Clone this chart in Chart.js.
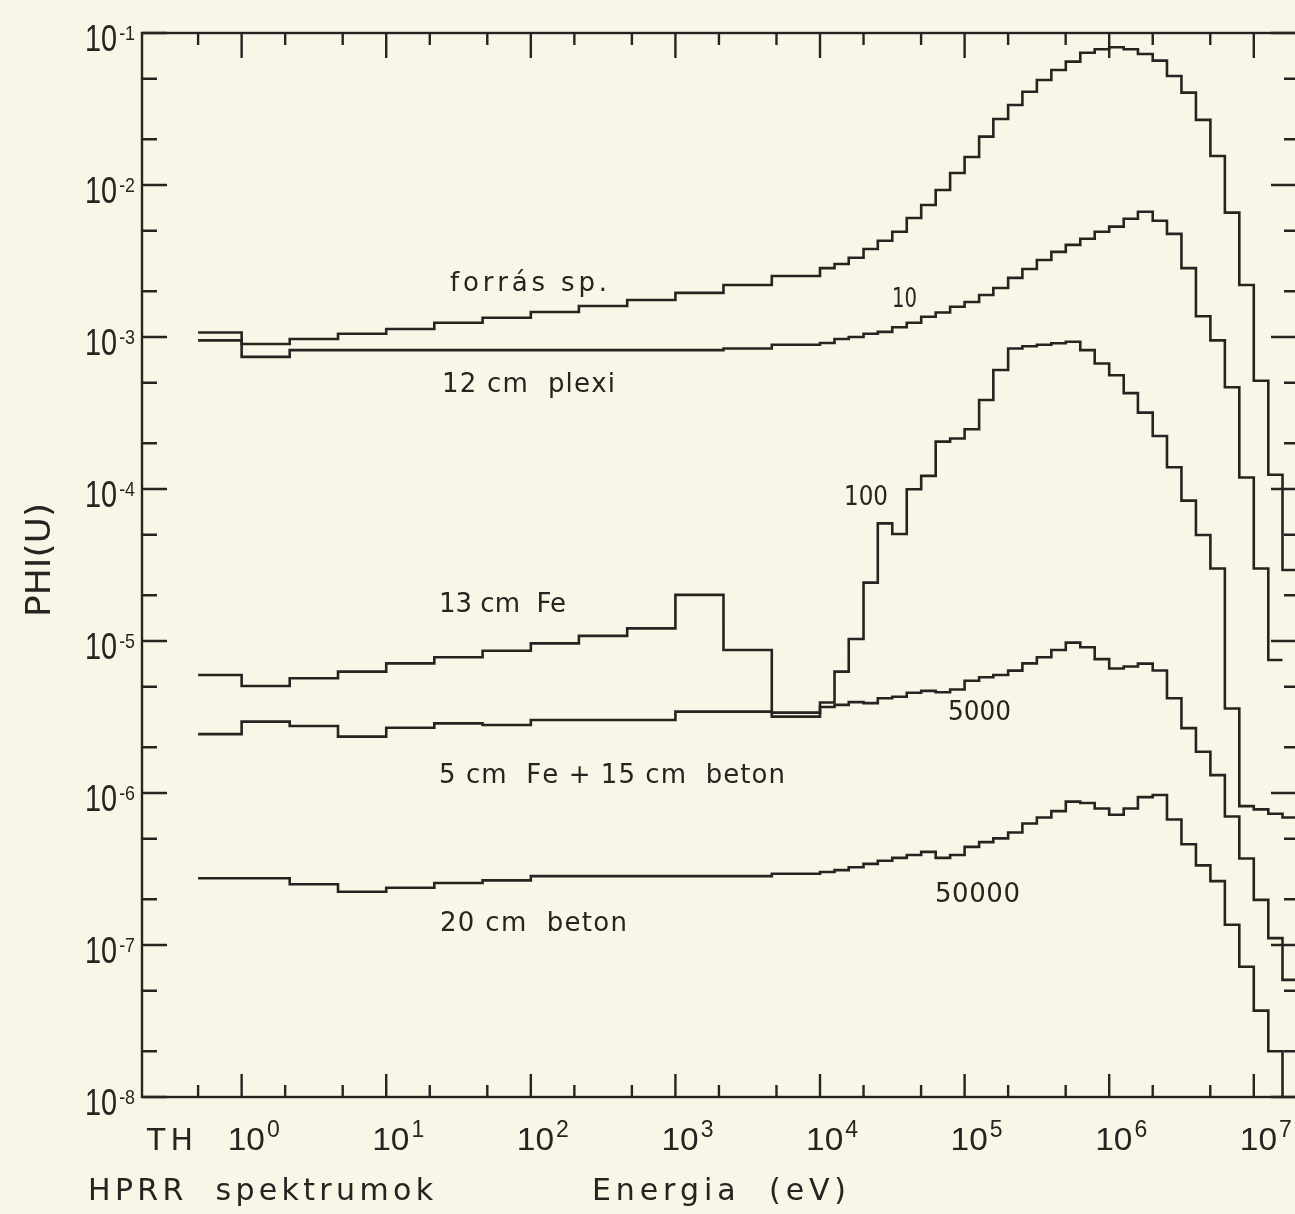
<!DOCTYPE html>
<html lang="hu">
<head>
<meta charset="utf-8">
<title>HPRR spektrumok</title>
<script src="https://cdn.jsdelivr.net/npm/chart.js@4.4.1/dist/chart.umd.min.js"></script>
<style>
  html, body { margin: 0; padding: 0; background: #faf6e7; overflow: hidden; }
  canvas { display: block; }
</style>
</head>
<body>
<canvas id="spectra" width="1300" height="1214"></canvas>
<script>
// energy group edges (eV): TH group, 1/3 decade groups up to 10 keV, then 0.1 decade groups
const binEdges = [0.5, 1, 2.15, 4.64, 10, 21.5, 46.4, 100, 215, 464, 1000, 2150, 4640,
  1.00e4, 1.26e4, 1.58e4, 2.00e4, 2.51e4, 3.16e4, 3.98e4, 5.01e4, 6.31e4, 7.94e4,
  1.00e5, 1.26e5, 1.58e5, 2.00e5, 2.51e5, 3.16e5, 3.98e5, 5.01e5, 6.31e5, 7.94e5,
  1.00e6, 1.26e6, 1.58e6, 2.00e6, 2.51e6, 3.16e6, 3.98e6, 5.01e6, 6.31e6, 7.94e6,
  1.00e7, 1.26e7, 1.58e7, 2.00e7, 2.51e7];

// PHI(U) per group, as plotted (already multiplied by the factor written on the curve)
const forras = [1.07e-3, 9.0e-4, 9.7e-4, 1.05e-3, 1.13e-3, 1.24e-3, 1.34e-3, 1.46e-3, 1.60e-3, 1.75e-3, 1.95e-3, 2.20e-3, 2.52e-3,
  2.84e-3, 3.02e-3, 3.32e-3, 3.79e-3, 4.30e-3, 4.93e-3, 6.07e-3, 7.38e-3, 9.27e-3, 1.20e-2,
  1.53e-2, 2.08e-2, 2.72e-2, 3.36e-2, 4.11e-2, 4.91e-2, 5.71e-2, 6.48e-2, 7.42e-2, 7.81e-2,
  8.05e-2, 7.81e-2, 7.27e-2, 6.58e-2, 5.21e-2, 4.05e-2, 2.68e-2, 1.55e-2, 6.58e-3, 2.20e-3,
  5.15e-4, 1.24e-4, 2.93e-5, 2.93e-5];

const plexi12 = [9.5e-4, 7.4e-4, 8.2e-4, 8.2e-4, 8.2e-4, 8.2e-4, 8.2e-4, 8.2e-4, 8.2e-4, 8.2e-4, 8.2e-4, 8.4e-4, 8.9e-4,
  9.14e-4, 9.7e-4, 1.0e-3, 1.05e-3, 1.08e-3, 1.16e-3, 1.24e-3, 1.36e-3, 1.45e-3, 1.58e-3,
  1.70e-3, 1.89e-3, 2.10e-3, 2.45e-3, 2.80e-3, 3.21e-3, 3.63e-3, 4.04e-3, 4.43e-3, 4.93e-3,
  5.32e-3, 6.0e-3, 6.67e-3, 5.82e-3, 4.77e-3, 2.84e-3, 1.37e-3, 9.5e-4, 4.67e-4, 1.19e-4,
  3.0e-5, 7.5e-6, null, null];

const fe13 = [5.97e-6, 5.06e-6, 5.69e-6, 6.29e-6, 7.13e-6, 7.81e-6, 8.63e-6, 9.65e-6, 1.08e-5, 1.21e-5, 2.01e-5, 8.73e-6, 3.18e-6,
  3.94e-6, 6.29e-6, 1.03e-5, 2.42e-5, 5.94e-5, 5.06e-5, 9.96e-5, 1.22e-4, 2.05e-4, 2.15e-4,
  2.47e-4, 3.85e-4, 6.07e-4, 8.4e-4, 8.7e-4, 8.9e-4, 9.1e-4, 9.3e-4, 8.2e-4, 6.7e-4,
  5.6e-4, 4.27e-4, 3.18e-4, 2.23e-4, 1.39e-4, 8.38e-5, 4.98e-5, 3.0e-5, 3.6e-6, 8.2e-7,
  7.8e-7, 7.3e-7, 6.9e-7, 6.9e-7];

const fe5beton15 = [2.44e-6, 2.95e-6, 2.76e-6, 2.35e-6, 2.69e-6, 2.87e-6, 2.80e-6, 3.02e-6, 3.02e-6, 3.02e-6, 3.43e-6, 3.43e-6, 3.38e-6,
  3.68e-6, 3.80e-6, 3.96e-6, 3.90e-6, 4.20e-6, 4.30e-6, 4.57e-6, 4.70e-6, 4.60e-6, 4.80e-6,
  5.48e-6, 5.77e-6, 5.97e-6, 6.38e-6, 7.13e-6, 7.81e-6, 8.73e-6, 9.75e-6, 9.10e-6, 7.60e-6,
  6.60e-6, 6.80e-6, 7.10e-6, 6.40e-6, 4.20e-6, 2.67e-6, 1.87e-6, 1.31e-6, 7.0e-7, 3.71e-7,
  1.98e-7, 1.11e-7, 5.9e-8, 5.9e-8];

const beton20 = [2.75e-7, 2.75e-7, 2.51e-7, 2.24e-7, 2.38e-7, 2.56e-7, 2.66e-7, 2.84e-7, 2.84e-7, 2.84e-7, 2.84e-7, 2.84e-7, 2.94e-7,
  3.02e-7, 3.11e-7, 3.25e-7, 3.42e-7, 3.58e-7, 3.74e-7, 3.91e-7, 4.10e-7, 3.74e-7, 3.91e-7,
  4.42e-7, 4.75e-7, 5.03e-7, 5.50e-7, 6.30e-7, 6.90e-7, 7.60e-7, 8.77e-7, 8.60e-7, 7.90e-7,
  7.20e-7, 7.90e-7, 9.40e-7, 9.70e-7, 6.70e-7, 4.60e-7, 3.34e-7, 2.63e-7, 1.36e-7, 7.2e-8,
  3.7e-8, 2.0e-8, 5e-9, null];

// axis ticks
const xMajorTicks = [1, 10, 100, 1e3, 1e4, 1e5, 1e6, 1e7];
const xExponents = [0, 1, 2, 3, 4, 5, 6, 7];
const xMinorTicks = [0.5, 2, 5, 20, 50, 200, 500, 2e3, 5e3, 2e4, 5e4, 2e5, 5e5, 2e6, 5e6];
const yMajorTicks = [1e-1, 1e-2, 1e-3, 1e-4, 1e-5, 1e-6, 1e-7, 1e-8];
const yExponents = [-1, -2, -3, -4, -5, -6, -7, -8];
const yMinorTicks = [5e-2, 2e-2, 5e-3, 2e-3, 5e-4, 2e-4, 5e-5, 2e-5, 5e-6, 2e-6, 5e-7, 2e-7, 5e-8, 2e-8];

const INK = '#252420';
const FONT = '"Liberation Sans", Arial, sans-serif';
const LETTERING = '"DejaVu Sans", Verdana, sans-serif';

// histogram: value of group i is held from edge i to edge i+1
function steps(vals) {
  const pts = [];
  let last = -1;
  vals.forEach((v, i) => {
    if (v === null) return;
    pts.push({ x: binEdges[i], y: v });
    last = i;
  });
  pts.push({ x: binEdges[last + 1], y: vals[last] });
  return pts;
}

function drawText(c, s, x, y, size, opts) {
  opts = opts || {};
  c.save();
  c.font = size + 'px ' + (opts.family || FONT);
  c.fillStyle = INK;
  c.textBaseline = 'alphabetic';
  const raw = c.measureText(s).width;
  const sx = opts.width ? opts.width / raw : (opts.sx || 1);
  const w = raw * sx;
  let x0 = x;
  if (opts.align === 'center') x0 = x - w / 2;
  else if (opts.align === 'right') x0 = x - w;
  c.translate(x0, y);
  c.scale(sx, 1);
  c.fillText(s, 0, 0);
  c.restore();
  return w;
}

// stencil lettering: natural glyphs, spread out to the given width
function drawSpaced(c, s, x, y, size, width) {
  c.save();
  c.font = size + 'px ' + LETTERING;
  c.fillStyle = INK;
  c.textBaseline = 'alphabetic';
  const chars = Array.from(s);
  const ws = chars.map(ch => c.measureText(ch).width);
  const sum = ws.reduce((p, q) => p + q, 0);
  if (sum >= width || chars.length < 2) {
    c.restore();
    drawText(c, s, x, y, size, { width: width, family: LETTERING });
    return;
  }
  const gap = (width - sum) / (chars.length - 1);
  let px = x;
  chars.forEach((ch, i) => {
    c.fillText(ch, px, y);
    px += ws[i] + gap;
  });
  c.restore();
}

function measure(c, s, size, sx) {
  c.save();
  c.font = size + 'px ' + FONT;
  const w = c.measureText(s).width * sx;
  c.restore();
  return w;
}

function yPowerLabel(c, exp, x, y) {
  const sup = String(exp);
  const wb = measure(c, '10', 36, 0.8);
  const ws = measure(c, sup, 21, 0.85);
  const x0 = x - (wb + 2 + ws);
  drawText(c, '10', x0, y, 36, { sx: 0.8 });
  drawText(c, sup, x0 + wb + 2, y - 11, 21, { sx: 0.85 });
}

function xPowerLabel(c, exp, tickX, y) {
  const x0 = tickX - 14;
  const wb = drawText(c, '10', x0, y, 31, { sx: 1.08 });
  drawText(c, String(exp), x0 + wb + 2, y - 13, 23, { sx: 1 });
}

const paperPlugin = {
  id: 'paper',
  beforeDraw(chart) {
    const c = chart.ctx;
    c.save();
    c.fillStyle = '#faf6e7';
    c.fillRect(0, 0, chart.width, chart.height);
    c.restore();
  }
};

const axesPlugin = {
  id: 'hprrAxes',
  afterDatasetsDraw(chart) {
    const c = chart.ctx, a = chart.chartArea;
    const xs = chart.scales.x, ys = chart.scales.y;
    c.save();
    c.strokeStyle = INK;
    c.lineWidth = 2.4;
    c.strokeRect(a.left, a.top, a.right - a.left, a.bottom - a.top);

    c.beginPath();
    xMajorTicks.forEach(v => {
      const p = xs.getPixelForValue(v);
      c.moveTo(p, a.bottom); c.lineTo(p, a.bottom - 23);
      c.moveTo(p, a.top); c.lineTo(p, a.top + 25);
    });
    xMinorTicks.forEach(v => {
      const p = xs.getPixelForValue(v);
      c.moveTo(p, a.bottom); c.lineTo(p, a.bottom - 12);
      c.moveTo(p, a.top); c.lineTo(p, a.top + 12);
    });
    yMajorTicks.forEach(v => {
      const p = ys.getPixelForValue(v);
      c.moveTo(a.left, p); c.lineTo(a.left + 25, p);
      c.moveTo(a.right, p); c.lineTo(a.right - 26, p);
    });
    yMinorTicks.forEach(v => {
      const p = ys.getPixelForValue(v);
      c.moveTo(a.left, p); c.lineTo(a.left + 15, p);
      c.moveTo(a.right, p); c.lineTo(a.right - 13, p);
    });
    c.stroke();
    c.restore();

    // tick labels
    yMajorTicks.forEach((v, i) => {
      yPowerLabel(c, yExponents[i], a.left - 7, ys.getPixelForValue(v) + 18);
    });
    xMajorTicks.forEach((v, i) => {
      xPowerLabel(c, xExponents[i], xs.getPixelForValue(v), 1150);
    });
    drawSpaced(c, 'TH', 147, 1150, 30, 46);

    // axis titles
    drawSpaced(c, 'HPRR  spektrumok', 88, 1200, 30, 345);
    drawSpaced(c, 'Energia  (eV)', 592, 1200, 30, 254);
    c.save();
    c.translate(50, 560);
    c.rotate(-Math.PI / 2);
    drawText(c, 'PHI(U)', 0, 0, 33, { width: 114, align: 'center', family: LETTERING });
    c.restore();

    // curve annotations
    drawSpaced(c, 'forrás sp.', 450, 291, 26, 157);
    drawSpaced(c, '10', 892, 307, 26, 25);
    drawSpaced(c, '12 cm  plexi', 442, 392, 26, 173);
    drawSpaced(c, '100', 844, 505, 26, 44);
    drawSpaced(c, '13 cm  Fe', 439, 612, 26, 127);
    drawSpaced(c, '5000', 948, 720, 26, 63);
    drawSpaced(c, '5 cm  Fe + 15 cm  beton', 439, 783, 26, 346);
    drawSpaced(c, '50000', 935, 902, 26, 85);
    drawSpaced(c, '20 cm  beton', 440, 931, 26, 187);
  }
};

function series(label, vals) {
  return {
    label: label,
    data: steps(vals),
    stepped: true,
    borderColor: INK,
    borderWidth: 2.6,
    pointRadius: 0,
    fill: false
  };
}

const ctx = document.getElementById('spectra');
const spectraChart = new Chart(ctx, {
  type: 'line',
  data: {
    datasets: [
      series('forrás sp.', forras),
      series('12 cm plexi (x10)', plexi12),
      series('13 cm Fe (x100)', fe13),
      series('5 cm Fe + 15 cm beton (x5000)', fe5beton15),
      series('20 cm beton (x50000)', beton20)
    ]
  },
  options: {
    responsive: false,
    animation: false,
    layout: { padding: { left: 142, top: 33, right: 3, bottom: 117 } },
    plugins: {
      legend: { display: false },
      tooltip: { enabled: false }
    },
    scales: {
      x: { type: 'logarithmic', min: 0.2046, max: 1.99e7, display: false },
      y: { type: 'logarithmic', min: 1e-8, max: 1e-1, display: false }
    }
  },
  plugins: [paperPlugin, axesPlugin]
});
</script>
</body>
</html>
